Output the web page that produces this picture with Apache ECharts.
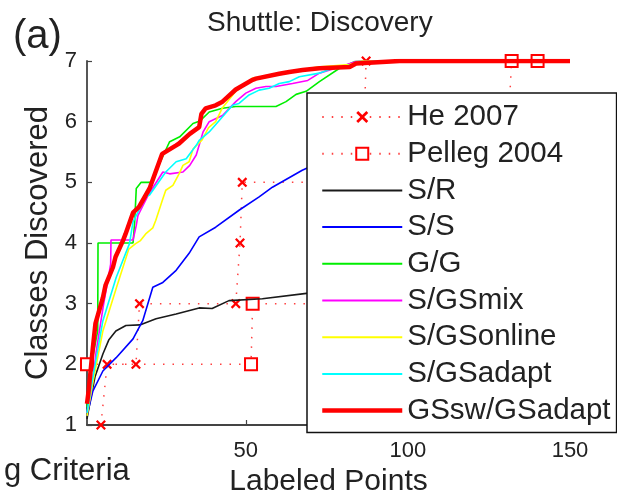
<!DOCTYPE html>
<html>
<head>
<meta charset="utf-8">
<script src="https://cdn.jsdelivr.net/npm/echarts@6/dist/echarts.min.js"></script>
<style>html,body{margin:0;padding:0;background:#fff;}#c{width:617px;height:493px;}</style>
</head>
<body>
<div id="c"></div>
<script>
// ---- data ----
var seriesNames = ['He 2007', 'Pelleg 2004', 'S/R', 'S/S', 'G/G', 'S/GSmix', 'S/GSonline', 'S/GSadapt', 'GSsw/GSadapt'];
var xTickValues = [50, 100, 150];
var yTickValues = [1, 2, 3, 4, 5, 6, 7];

var heX = [5.3, 7.2, 16.1, 17.2, 46.9, 48.2, 48.9, 85, 86.5, 87.1];
var heY = [1, 2, 2, 3, 3, 4, 5, 5, 6, 7];

var pelX = [1, 51.6, 52.1, 120, 125, 128, 131, 132, 140];
var pelY = [2, 2, 3, 3, 4, 5, 6, 7, 7];

var srX = [1, 2, 3.5, 5.9, 7.7, 9.9, 13, 17.3, 22.3, 28.5, 35.6, 39.6, 44.8, 55.1, 68.7, 100, 130, 150];
var srY = [1.1, 1.4, 1.8, 2.17, 2.4, 2.55, 2.64, 2.65, 2.75, 2.83, 2.93, 2.92, 3.05, 3.08, 3.17, 3.35, 3.45, 3.5];

var ssX = [1, 2.8, 5.9, 10, 15.2, 18.2, 21.3, 24.4, 28.5, 32.5, 35.6, 40.7, 47.9, 54.1, 58.2, 67.4, 80, 100, 120, 150];
var ssY = [1.15, 1.56, 1.89, 2.11, 2.42, 2.72, 3.27, 3.35, 3.55, 3.83, 4.1, 4.26, 4.54, 4.76, 4.92, 5.2, 5.5, 5.9, 6.2, 6.4];

var ggX = [1, 2, 4.3, 4.4, 15.2, 15.7, 16.2, 17.7, 20.8, 25, 26.5, 29.6, 33.7, 35.8, 38.7, 42.8, 46.9, 59.3, 62.4, 65.5, 68.6, 72.7, 78.9, 83.5, 86, 150];
var ggY = [1.3, 1.9, 2.55, 4.0, 4.0, 4.34, 4.9, 5.0, 5.0, 5.5, 5.67, 5.75, 5.97, 6.01, 6.16, 6.22, 6.25, 6.25, 6.33, 6.45, 6.5, 6.66, 6.88, 6.99, 7, 7];

var mixX = [1, 2.5, 3.8, 6, 8.3, 8.4, 15.2, 16.2, 16.7, 20, 24.4, 26.5, 30.6, 32.7, 34.7, 36.8, 38.7, 42.8, 46.9, 50, 53.1, 56.2, 59.3, 64.4, 69.1, 72.7, 78.9, 84, 88, 150];
var mixY = [1.2, 1.6, 2.2, 2.95, 3.65, 4.05, 4.05, 4.29, 4.45, 4.8, 5.17, 5.14, 5.17, 5.28, 5.45, 5.83, 6.0, 6.1, 6.33, 6.47, 6.55, 6.58, 6.58, 6.63, 6.68, 6.8, 6.9, 6.99, 7, 7];

var onlX = [1, 2.8, 5.9, 10, 13.9, 16, 17.5, 19.1, 21.3, 22.2, 24.4, 25.3, 27.5, 29.4, 30.6, 32.5, 33.7, 36.5, 38.5, 40.7, 42.8, 46.9, 50, 52.1, 60, 72, 82, 86, 150];
var onlY = [1.15, 1.7, 2.55, 3.25, 3.9, 3.99, 4.04, 4.15, 4.25, 4.37, 4.73, 4.87, 4.95, 5.14, 5.28, 5.34, 5.55, 5.7, 5.9, 6.0, 6.23, 6.5, 6.62, 6.72, 6.78, 6.9, 6.94, 7, 7];

var adaX = [1, 2.8, 5.9, 10, 14.1, 15.2, 19.1, 20.3, 25.3, 28.5, 31.6, 34.7, 35.6, 38.7, 41.8, 45.9, 47.9, 51, 54.1, 57.2, 60.3, 63.4, 66.5, 72.7, 76.7, 82, 90, 150];
var adaY = [1.2, 1.78, 2.72, 3.43, 3.99, 4.35, 4.76, 4.79, 5.17, 5.34, 5.39, 5.61, 5.69, 5.83, 6.02, 6.27, 6.3, 6.44, 6.52, 6.55, 6.63, 6.66, 6.74, 6.8, 6.88, 6.93, 7, 7];

var swX = [1, 1.5, 2.8, 3.6, 5.9, 6.7, 9, 9.8, 12.1, 12.9, 15.2, 17, 20.3, 24.2, 28.5, 29.4, 32.7, 35.6, 36.3, 37.6, 40.7, 42.8, 46.9, 52.1, 53.1, 60.3, 63.4, 67.5, 72.7, 82, 84, 97.4, 150];
var swY = [1.35, 1.56, 2.27, 2.67, 3.1, 3.3, 3.6, 3.77, 4.04, 4.15, 4.5, 4.59, 4.9, 5.47, 5.61, 5.64, 5.8, 5.91, 6.13, 6.22, 6.27, 6.33, 6.53, 6.69, 6.71, 6.79, 6.82, 6.85, 6.88, 6.9, 6.96, 7.0, 7.0];

// ---- build ----
function pairs(xs, ys) { return xs.map(function (x, i) { return [x, ys[i]]; }); }
var FONT = 'Liberation Sans';
var X_MARK = 'path://M0,1.6L1.6,0L5,3.4L8.4,0L10,1.6L6.6,5L10,8.4L8.4,10L5,6.6L1.6,10L0,8.4L3.4,5Z';

function curve(name, xs, ys, color, width) {
  return {
    name: name, type: 'line', data: pairs(xs, ys), symbol: 'none', showSymbol: false,
    lineStyle: { color: color, width: width }, itemStyle: { color: color }, animation: false, z: 2
  };
}

var series = [
  {
    name: seriesNames[0], type: 'line', data: pairs(heX, heY), symbol: X_MARK, symbolSize: 10,
    clip: false, itemStyle: { color: '#ff0000' },
    lineStyle: { color: '#ff4040', width: 1.5, type: [1.5, 8] }, animation: false, z: 1
  },
  {
    name: seriesNames[1], type: 'line', data: pairs(pelX, pelY), symbol: 'emptyRect', symbolSize: 12,
    clip: false, itemStyle: { color: '#ff0000', borderWidth: 1.5 },
    lineStyle: { color: '#ff4040', width: 1.5, type: [1.5, 8] }, animation: false, z: 1
  },
  curve(seriesNames[2], srX, srY, '#1a1a1a', 1.6),
  curve(seriesNames[3], ssX, ssY, '#0000ff', 1.6),
  curve(seriesNames[4], ggX, ggY, '#00ee00', 1.6),
  curve(seriesNames[5], mixX, mixY, '#ff00ff', 1.6),
  curve(seriesNames[6], onlX, onlY, '#ffff00', 1.6),
  curve(seriesNames[7], adaX, adaY, '#00ffff', 1.6),
  curve(seriesNames[8], swX, swY, '#ff0000', 4.5)
];

var legendData = seriesNames.map(function (n, i) {
  if (i < 2) return { name: n };
  return { name: n, itemStyle: { opacity: 0 }, lineStyle: { width: i === 8 ? 4.5 : 2 } };
});

var axisColor = '#444';
var option = {
  animation: false,
  backgroundColor: '#fff',
  title: [
    { text: 'Shuttle: Discovery', left: 207, top: 9, padding: 0,
      textStyle: { fontFamily: FONT, fontSize: 28, fontWeight: 'normal', color: '#222' } },
    { text: '(a)', left: 13, top: 17, padding: 0,
      textStyle: { fontFamily: FONT, fontSize: 40, fontWeight: 'normal', color: '#222' } },
    { text: 'g Criteria', left: 4, top: 456, padding: 0,
      textStyle: { fontFamily: FONT, fontSize: 31, fontWeight: 'normal', color: '#222' } }
  ],
  grid: { left: 87, right: 47, top: 61, bottom: 68, containLabel: false, outerBoundsMode: 'none' },
  xAxis: {
    type: 'value', min: 1, max: 150,
    name: 'Labeled Points', nameLocation: 'middle', nameGap: 37,
    nameTextStyle: { fontFamily: FONT, fontSize: 30, color: '#222' },
    axisLine: { show: true, lineStyle: { color: axisColor, width: 1.8 } },
    axisTick: { show: true, inside: true, length: 5, customValues: xTickValues, lineStyle: { color: axisColor, width: 1.2 } },
    axisLabel: { customValues: xTickValues, margin: 15, fontFamily: FONT, fontSize: 22, color: '#222' },
    splitLine: { show: false }
  },
  yAxis: {
    type: 'value', min: 1, max: 7, interval: 1,
    name: 'Classes Discovered', nameLocation: 'middle', nameGap: 32,
    nameTextStyle: { fontFamily: FONT, fontSize: 31, color: '#222' },
    axisLine: { show: true, lineStyle: { color: axisColor, width: 1.8 } },
    axisTick: { show: true, inside: true, length: 5, customValues: yTickValues, lineStyle: { color: axisColor, width: 1.2 } },
    axisLabel: { customValues: yTickValues, margin: 10, fontFamily: FONT, fontSize: 22, color: '#222' },
    splitLine: { show: false }
  },
  legend: {
    data: legendData, orient: 'vertical', left: 307, top: 93,
    padding: [9, 6, 7, 13], itemWidth: 80, itemHeight: 15, itemGap: 6.7,
    backgroundColor: '#fff', borderColor: '#111', borderWidth: 1.5, borderRadius: 0,
    textStyle: { fontFamily: FONT, fontSize: 29.5, color: '#222', lineHeight: 26 },
    selectedMode: false
  },
  series: series
};

var chart = echarts.init(document.getElementById('c'), null, { renderer: 'canvas' });
chart.setOption(option);
</script>
</body>
</html>
